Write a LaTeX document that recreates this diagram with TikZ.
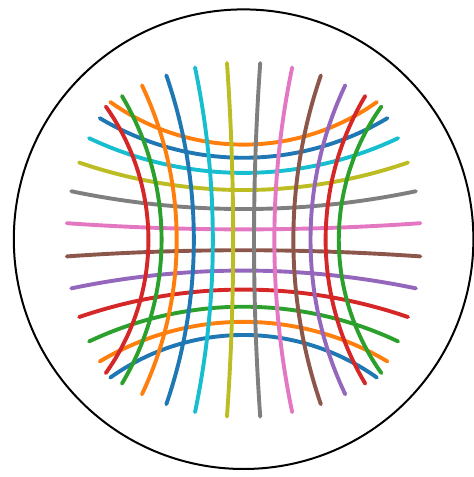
\documentclass[tikz,border=0pt]{standalone}
\definecolor{tabblue}{HTML}{1F77B4}
\definecolor{taborange}{HTML}{FF7F0E}
\definecolor{tabgreen}{HTML}{2CA02C}
\definecolor{tabred}{HTML}{D62728}
\definecolor{tabpurple}{HTML}{9467BD}
\definecolor{tabbrown}{HTML}{8C564B}
\definecolor{tabpink}{HTML}{E377C2}
\definecolor{tabgray}{HTML}{7F7F7F}
\definecolor{tabolive}{HTML}{BCBD22}
\definecolor{tabcyan}{HTML}{17BECF}
\begin{document}
\begin{tikzpicture}[x=1pt,y=1pt,
  geod/.style={line width=3.9pt, line cap=round, line join=round},
  rim/.style={line width=2pt, black}]
\useasboundingbox (-243.6,-237.2) rectangle (230.4,239.8);
\def\R{229.8}
\draw[rim] (0,0.6) circle[radius=229.8];
% horizontal geodesics (bottom to top)
\foreach \i/\col in {0/tabblue,1/taborange,2/tabgreen,3/tabred,4/tabpurple,5/tabbrown,6/tabpink,7/tabgray,8/tabolive,9/tabcyan,10/tabblue,11/taborange}{
  \pgfmathsetmacro\cv{(2*\i-11)/11}
  \pgfmathsetmacro\ch{sqrt(1+\cv*\cv)}
  \draw[geod,\col,domain=-2.05:2.05,samples=81,smooth]
    plot ({\R*sinh(\x)/(1+cosh(\x)*\ch)},{\R*\cv*cosh(\x)/(1+cosh(\x)*\ch)});
}
% vertical geodesics (right to left)
\foreach \j/\col in {12/tabgreen,13/tabred,14/tabpurple,15/tabbrown,16/tabpink,17/tabgray,18/tabolive,19/tabcyan,20/tabblue,21/taborange,22/tabgreen,23/tabred}{
  \pgfmathsetmacro\cv{(11-2*(\j-12))/11}
  \pgfmathsetmacro\ch{sqrt(1+\cv*\cv)}
  \draw[geod,\col,domain=-2.05:2.05,samples=81,smooth]
    plot ({\R*\cv*cosh(\x)/(1+cosh(\x)*\ch)},{\R*sinh(\x)/(1+cosh(\x)*\ch)});
}
\end{tikzpicture}
\end{document}
